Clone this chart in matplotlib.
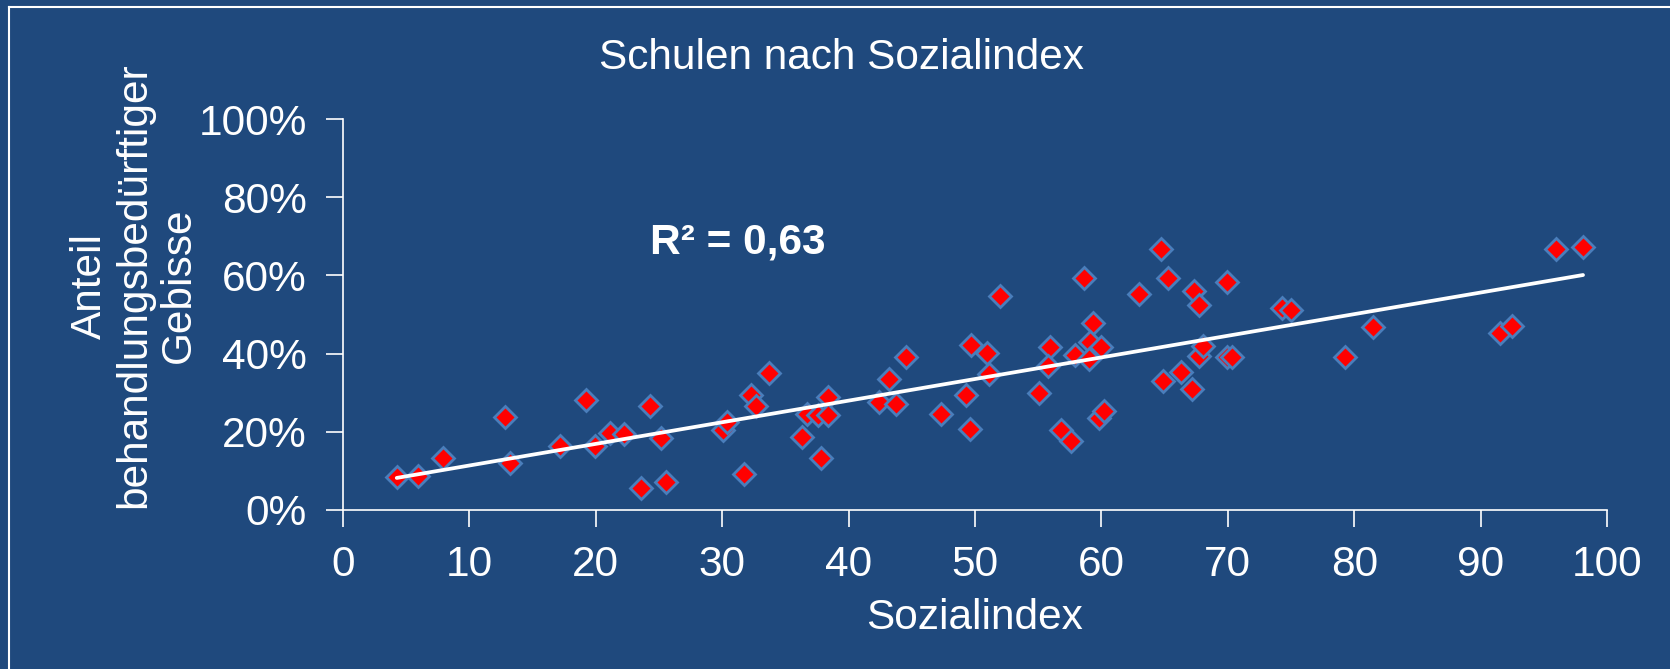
import matplotlib
matplotlib.use("Agg")
import matplotlib.pyplot as plt
from matplotlib.lines import Line2D
from matplotlib.ticker import FuncFormatter
import numpy as np

# Sozialindex der Schulen
sozialindex = [4.25, 5.96, 7.94, 12.83, 13.2, 17.2, 19.2, 19.95, 21.1, 22.2,
               24.25, 23.57, 25.15, 25.55, 30.03, 30.4, 31.7, 32.3, 32.7, 33.7,
               36.7, 36.3, 37.6, 37.8, 38.4, 38.4, 42.4, 43.2, 43.75, 44.55,
               47.3, 49.3, 49.6, 49.7, 50.95, 51.1, 52.0, 55.05, 55.9, 55.8,
               56.8, 57.6, 58.6, 57.9, 59.3, 59.1, 59.0, 60.0, 59.8, 60.2,
               63.0, 64.7, 65.3, 64.9, 66.3, 67.2, 67.3, 67.7, 67.7, 68.0,
               69.9, 69.95, 70.35, 74.3, 75.0, 79.3, 81.45, 91.5, 92.5, 96.0,
               98.1]
# Anteil behandlungsbeduerftiger Gebisse in %
anteil = [8.5, 8.7, 13.2, 23.8, 11.9, 16.3, 28.2, 16.4, 19.7, 19.5,
          26.5, 5.5, 18.5, 7.2, 20.4, 22.5, 9.3, 29.3, 26.5, 35.0,
          24.6, 18.7, 24.2, 13.3, 28.9, 24.2, 27.6, 33.5, 27.0, 39.1,
          24.5, 29.5, 20.6, 42.2, 40.1, 34.8, 54.8, 30.0, 41.6, 36.9,
          20.4, 17.6, 59.3, 39.7, 47.7, 42.9, 38.6, 41.6, 23.4, 25.3,
          55.2, 66.7, 59.3, 32.9, 35.4, 31.0, 55.9, 52.5, 39.5, 42.0,
          58.2, 39.1, 39.1, 51.6, 51.2, 39.1, 46.7, 45.3, 47.0, 66.7,
          67.3]

# lineare Trendlinie
trend_x = [4.25, 98.1]
trend_y = [8.2, 60.1]
r2_text = "R² = 0,63"

bg = "#1F497D"
fs = 30.5
plt.rcParams["font.family"] = ["Liberation Sans", "DejaVu Sans"]

fig = plt.figure(figsize=(16.7, 6.69), dpi=100, facecolor=bg)
ax = fig.add_axes([0.2054, 0.2377, 0.7569, 0.5844])
ax.set_facecolor(bg)

ax.plot(sozialindex, anteil, linestyle="none", marker="D", markersize=11,
        markerfacecolor="#FF0000", markeredgecolor="#4A7EBB",
        markeredgewidth=2, zorder=3)
ax.plot(trend_x, trend_y, color="white", linewidth=2.7, zorder=4,
        solid_capstyle="round")

ax.set_xlim(0, 100)
ax.set_ylim(0, 100)
ax.set_xticks(np.arange(0, 101, 10))
ax.set_yticks(np.arange(0, 101, 20))
ax.yaxis.set_major_formatter(FuncFormatter(lambda v, p: f"{v:.0f}%"))

for s in ["top", "right"]:
    ax.spines[s].set_visible(False)
for s in ["left", "bottom"]:
    ax.spines[s].set_color("white")
    ax.spines[s].set_linewidth(1.2)
ax.tick_params(colors="white", labelsize=fs, length=12, width=1.2,
               direction="out")
ax.tick_params(axis="x", pad=13)
ax.tick_params(axis="y", pad=14)

ax.text(24.3, 68.4, r2_text, color="white", fontsize=fs, fontweight="bold",
        va="center", ha="left")

fig.text(0.5036, 0.913, "Schulen nach Sozialindex", color="white",
         fontsize=fs, ha="center", va="center")
fig.text(0.5838, 0.0762, "Sozialindex", color="white", fontsize=fs,
         ha="center", va="center")
fig.text(0.0805, 0.573, "Anteil\nbehandlungsbedürftiger\nGebisse",
         color="white", fontsize=fs, ha="center", va="center", rotation=90,
         multialignment="center", linespacing=1.13)

# Rahmen oben und links
fig.add_artist(Line2D([9 / 1670, 1], [1 - 7 / 669, 1 - 7 / 669],
                      color="white", linewidth=1.5))
fig.add_artist(Line2D([9 / 1670, 9 / 1670], [0, 1 - 7 / 669],
                      color="white", linewidth=1.5))

fig.savefig("out.png", dpi=100, facecolor=bg)
